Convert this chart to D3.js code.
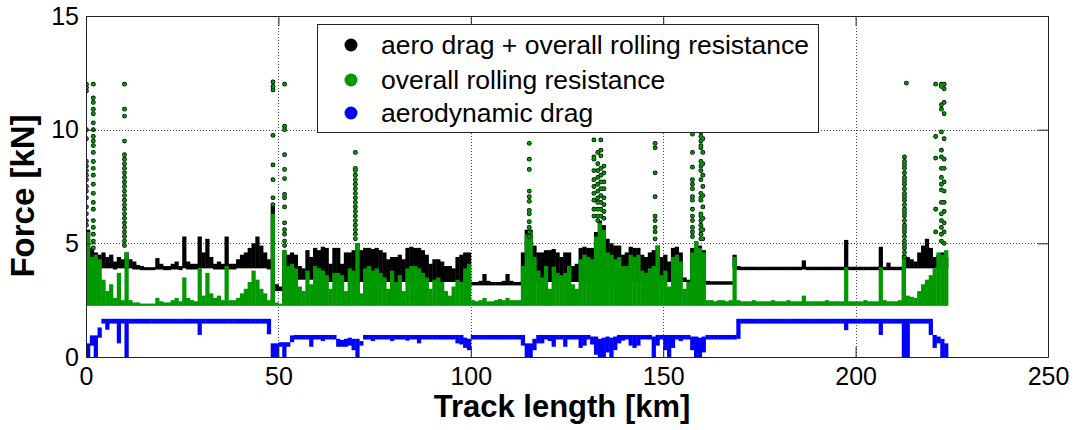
<!DOCTYPE html>
<html><head><meta charset="utf-8">
<script src="https://cdn.jsdelivr.net/npm/d3@7"></script>
<style>
body{margin:0;background:#fff}
svg{display:block}
text{font-family:"Liberation Sans",Arial,sans-serif;fill:#000}
</style>
</head><body>
<svg id="chart" width="1075" height="430"></svg>
<script>
// ---------- data (1 km bins starting at km 0) ----------
const xTicks = [0, 50, 100, 150, 200, 250];
const yTicks = [0, 5, 10, 15];
const xGrid = [50, 100, 150, 200];
const yGrid = [5, 10];
const seriesNames = ["aero drag + overall rolling resistance", "overall rolling resistance", "aerodynamic drag"];
const seriesColors = ["#000000", "#009900", "#0000ff"];

// overall rolling resistance: upper envelope of the dense green points [kN]
const greenHi = [
5.5,4.4,4.5,4.3,3.4,2.9,3.2,2.6,3.7,2.5,
4.6,2.5,2.4,2.4,2.35,2.35,2.35,2.35,2.6,2.45,
2.4,2.4,2.5,2.6,2.45,3.5,2.6,2.5,2.45,3.9,
2.7,3.7,2.8,2.6,2.7,2.5,4.0,2.5,2.5,2.6,
2.8,3.0,3.3,3.8,3.4,3.0,2.8,2.5,6.3,2.4,
2.35,4.7,4.0,4.1,3.9,3.1,2.9,3.8,3.2,4.0,
3.9,3.8,3.6,3.0,3.7,3.7,3.6,2.9,3.9,3.8,
5.0,2.8,3.9,4.0,3.8,3.9,3.7,3.5,3.0,3.8,
3.3,3.6,2.9,3.9,4.0,4.0,3.9,3.7,3.5,3.0,
3.4,3.5,3.3,2.9,2.7,3.1,3.4,3.3,3.9,4.1,
2.5,2.45,2.5,2.6,2.45,2.45,2.5,2.55,2.5,2.6,
2.5,2.5,2.5,4.0,5.4,5.5,4.4,3.8,3.5,4.0,
3.0,3.98,3.7,3.6,3.7,4.0,3.2,3.0,4.3,4.5,
4.4,4.3,5.3,5.9,5.6,4.6,4.5,4.3,4.4,4.0,
4.0,4.5,4.4,4.5,3.8,3.7,3.9,4.0,4.9,3.6,
3.8,3.1,4.4,4.5,4.2,3.0,3.3,4.6,5.1,4.8,
4.6,2.5,2.5,2.45,2.5,2.5,2.45,2.5,4.4,2.5,
2.45,2.45,2.45,2.5,2.45,2.45,2.45,2.45,2.5,2.45,
2.45,2.45,2.5,2.45,2.45,2.45,2.7,2.45,2.45,2.45,
2.45,2.45,2.5,2.45,2.45,2.45,2.45,3.95,2.45,2.45,
2.45,2.45,2.5,2.45,2.45,2.45,3.95,2.5,2.45,2.45,
2.45,2.5,4.5,2.7,2.65,2.6,2.9,3.2,3.4,3.6,
3.9,4.6,4.5,4.7];
const greenLo = 2.25;

// aero drag + overall rolling resistance: upper / lower envelope [kN]
const blackHi = [
5.6,4.8,4.6,4.5,4.6,4.4,4.5,4.2,4.4,4.3,
4.6,4.3,4.2,4.05,4.0,3.95,3.95,3.95,4.35,4.1,
4.0,4.0,4.1,4.2,4.0,5.3,4.2,4.1,4.1,5.3,
4.6,5.2,4.4,4.1,4.2,4.1,5.3,4.1,4.1,4.3,
4.5,4.6,4.8,5.0,5.3,4.9,4.6,4.3,6.7,3.2,
3.1,4.7,4.5,4.6,4.5,4.0,3.9,4.7,4.4,4.8,
4.7,4.85,4.8,4.1,4.8,4.8,4.1,4.6,4.6,4.7,
5.0,4.7,4.8,4.8,4.75,4.8,4.7,4.6,4.3,4.4,
4.4,4.5,4.3,4.8,4.85,4.8,4.8,4.7,4.5,4.1,
4.3,4.3,4.2,4.0,4.0,3.9,4.4,4.5,4.6,4.6,
3.3,3.3,3.35,3.65,3.35,3.3,3.3,3.3,3.35,3.65,
3.35,3.3,3.3,4.6,5.6,5.6,4.9,4.6,4.6,4.7,
4.7,4.75,4.6,4.4,4.6,4.6,4.0,4.1,4.8,4.85,
4.8,4.8,5.5,6.0,5.8,5.2,5.0,4.9,4.9,4.5,
4.6,4.85,4.8,4.8,4.5,4.4,4.6,4.7,4.9,4.4,
4.5,4.2,4.8,4.85,4.6,3.5,3.4,4.8,5.1,4.9,
4.7,3.35,3.33,3.33,3.33,3.33,3.33,3.33,4.5,4.0,
3.97,3.97,3.97,3.97,3.97,3.97,3.97,3.97,3.97,3.97,
3.97,3.97,3.97,3.97,3.97,3.97,4.25,3.97,3.97,3.97,
3.97,3.97,3.97,3.97,3.97,3.97,3.97,5.15,3.97,3.97,
3.97,3.97,3.97,3.97,3.97,3.97,4.85,3.97,4.15,3.97,
3.97,3.97,4.0,4.4,4.3,4.2,4.6,4.9,5.2,4.8,
4.4,4.5,4.6,4.4];
const blackLo = [
3.8,3.9,3.9,3.9,3.9,3.9,3.9,3.85,3.9,3.9,
3.9,3.9,3.85,3.85,3.82,3.82,3.82,3.82,3.85,3.85,
3.82,3.82,3.85,3.85,3.82,3.9,3.85,3.85,3.85,3.9,
3.9,3.9,3.9,3.85,3.85,3.85,3.9,3.85,3.85,3.9,
3.9,3.9,3.9,3.9,3.9,3.9,3.9,3.85,2.4,2.9,
2.9,2.4,3.5,3.5,3.5,3.4,3.4,3.4,3.4,3.4,
3.3,3.3,3.3,3.3,3.3,3.3,3.3,3.3,3.3,3.3,
2.4,3.3,3.3,3.3,3.3,3.3,3.3,3.3,3.3,3.3,
3.3,3.3,3.3,3.3,3.3,3.3,3.3,3.3,3.3,3.3,
3.3,3.3,3.3,3.3,3.3,3.3,3.3,3.3,3.3,3.3,
3.15,3.15,3.15,3.15,3.15,3.15,3.15,3.15,3.15,3.15,
3.15,3.15,3.15,3.3,2.4,2.4,3.3,3.3,3.3,3.3,
3.3,3.3,3.3,3.3,3.3,3.3,3.3,3.3,3.3,3.3,
3.3,3.3,2.4,2.4,2.4,3.3,3.3,3.3,3.3,3.3,
3.3,3.3,3.3,3.3,3.3,3.3,3.3,2.4,3.3,3.3,
3.3,3.3,3.3,3.3,3.3,3.3,3.3,2.4,2.4,2.4,
3.3,3.18,3.18,3.18,3.18,3.18,3.18,3.18,3.9,3.82,
3.82,3.82,3.82,3.82,3.82,3.82,3.82,3.82,3.82,3.82,
3.82,3.82,3.82,3.82,3.82,3.82,3.85,3.82,3.82,3.82,
3.82,3.82,3.82,3.82,3.82,3.82,3.82,3.82,3.82,3.82,
3.82,3.82,3.82,3.82,3.82,3.82,3.82,3.82,3.82,3.82,
3.82,3.82,2.5,3.9,3.9,3.9,3.9,3.9,3.9,3.9,
3.9,3.9,3.9,3.9];

// aerodynamic drag: level and dips [kN]
const blueHi = [
0.6,0.95,0.95,1.3,1.68,1.68,1.68,1.68,1.68,1.68,
1.68,1.68,1.68,1.68,1.68,1.68,1.68,1.68,1.68,1.68,
1.68,1.68,1.68,1.68,1.68,1.68,1.68,1.68,1.68,1.68,
1.68,1.68,1.68,1.68,1.68,1.68,1.68,1.68,1.68,1.68,
1.68,1.68,1.68,1.68,1.68,1.68,1.68,1.68,0.6,0.6,
0.65,0.65,0.65,0.95,0.97,0.97,0.97,0.97,0.97,0.97,
0.97,0.97,0.97,0.97,0.97,0.8,0.75,0.8,0.85,0.8,
0.8,0.7,0.97,0.97,0.97,0.97,0.97,0.97,0.97,0.97,
0.97,0.97,0.97,0.97,0.97,0.97,0.97,0.97,0.97,0.97,
0.97,0.97,0.97,0.97,0.97,0.97,0.97,0.97,0.85,0.8,
0.97,0.97,0.97,0.97,0.97,0.97,0.97,0.97,0.97,0.97,
0.97,0.97,0.97,0.97,0.6,0.6,0.8,0.97,0.97,0.97,
0.97,0.97,0.97,0.97,0.97,0.97,0.97,0.97,0.97,0.97,
0.97,0.9,0.9,0.8,0.85,0.9,0.85,0.9,0.97,0.97,
0.97,0.97,0.97,0.97,0.97,0.97,0.97,0.9,0.97,0.97,
0.97,0.97,0.97,0.97,0.97,0.97,0.97,0.9,0.9,0.85,
0.9,0.97,0.97,0.97,0.97,0.97,0.97,0.97,0.97,1.68,
1.68,1.68,1.68,1.68,1.68,1.68,1.68,1.68,1.68,1.68,
1.68,1.68,1.68,1.68,1.68,1.68,1.68,1.68,1.68,1.68,
1.68,1.68,1.68,1.68,1.68,1.68,1.68,1.68,1.68,1.68,
1.68,1.68,1.68,1.68,1.68,1.68,1.68,1.68,1.68,1.68,
1.68,1.68,1.68,1.68,1.68,1.68,1.68,1.68,1.68,1.68,
0.97,0.9,0.8,0.6];
const blueLo = [
0,0.5,0,0.85,1.47,1.2,1.47,1.47,0.6,1.47,
0,1.47,1.47,1.47,1.47,1.47,1.47,1.47,1.47,1.47,
1.47,1.47,1.47,1.47,1.47,1.47,1.47,1.47,1.47,0.97,
1.47,1.47,1.47,1.47,1.47,1.47,1.47,1.47,1.47,1.47,
1.47,1.47,1.47,1.47,1.47,1.47,1.47,1.0,0,0,
0.45,0,0.45,0.65,0.77,0.77,0.77,0.77,0.45,0.77,
0.77,0.7,0.77,0.77,0.77,0.45,0.45,0.45,0.5,0.3,
0,0.5,0.77,0.77,0.7,0.77,0.77,0.77,0.77,0.7,
0.77,0.77,0.77,0.72,0.77,0.77,0.6,0.77,0.77,0.77,
0.77,0.77,0.77,0.77,0.77,0.77,0.6,0.55,0.4,0.3,
0.77,0.77,0.77,0.77,0.77,0.77,0.77,0.77,0.77,0.77,
0.77,0.77,0.77,0.5,0,0,0.3,0.6,0.6,0.77,
0.7,0.45,0.77,0.77,0.45,0.77,0.77,0.77,0.4,0.5,
0.77,0.55,0.1,0,0,0.2,0,0.3,0.6,0.72,
0.77,0.5,0.4,0.5,0.77,0.77,0.77,0,0.5,0.77,
0.3,0,0.4,0.77,0.7,0.77,0.77,0.3,0,0,
0.2,0.77,0.77,0.77,0.77,0.77,0.77,0.77,0.77,0.8,
1.47,1.47,1.47,1.47,1.47,1.47,1.47,1.47,1.47,1.47,
1.47,1.47,1.47,1.47,1.47,1.47,1.47,1.47,1.47,1.47,
1.47,1.47,1.47,1.47,1.47,1.47,1.47,1.18,1.47,1.47,
1.47,1.47,1.47,1.47,1.47,1.47,0.97,1.47,1.47,1.47,
1.47,1.47,0,0,1.47,1.47,1.47,1.47,1.47,0.97,
0.4,0.6,0,0];

// isolated high-value points (spikes) : track position [km] and point values [kN]
const spikeX = [0.1, 1.9, 10.0, 48.6, 51.6, 70.0, 115.2, 132.0, 133.0, 133.8, 134.6,
                147.9, 157.6, 159.8, 160.3, 212.7, 213.2, 220.8, 222.3, 223.0];
const spikeVals = [
 [12.0,11.85,11.7,10.0,9.6,8.6,8.4,8.2,8.0,7.8,7.5,7.3,7.0,6.6,6.3,6.0,5.8],
 [12.0,11.4,11.2,10.9,10.7,10.3,10.0,9.7,9.5,9.3,9.0,8.6,8.3,8.0,7.6,7.2,6.8,6.5,6.0,5.7,5.4,5.1,4.8],
 [12.0,10.9,10.6,9.5,8.9,8.7,8.5,8.3,8.1,7.9,7.7,7.5,7.3,7.1,6.9,6.7,6.5,6.3,6.1,5.9,5.7,5.5,5.3,5.1,4.9],
 [12.1,11.9,11.75,9.75,8.45,7.8,7.0,6.7],
 [12.0,10.15,10.0,8.9,8.25,7.85,7.15,7.0,6.6,5.9,5.6,5.4,5.1,4.9],
 [9.0,8.3,8.2,8.0,7.8,7.6,7.4,7.2,7.0,6.8,6.6,6.4,6.2,6.0,5.8,5.6,5.4,5.2],
 [9.4,8.7,8.25,7.3,7.05,6.85,6.45,6.3,5.95,5.7,5.5,5.3],
 [9.55,8.8,8.7,8.2,7.8,7.5,7.2,6.9,6.5,6.2],
 [9.0,8.5,8.2,7.9,7.6,7.3,7.0,6.8,6.5,6.2,6.0],
 [9.55,9.1,8.85,8.3,8.0,7.7,7.4,7.1,6.8,6.5,6.2],
 [8.4,8.1,7.7,7.4,7.0,6.7,6.4,6.1],
 [9.4,9.2,8.1,7.05,6.2,6.0,5.7,5.5,5.2],
 [9.8,9.0,8.35,7.8,7.6,7.4,7.05,6.9,6.5,6.2,6.0,5.7,5.5,5.3],
 [10.2,9.9,9.7,9.5,9.3,9.2,8.6,8.4,8.2,7.8,7.2,7.0,6.9,6.3,6.2,6.0,5.8,5.6,5.4,5.2],
 [9.6,9.0,8.5,8.0,7.5,7.1,6.6,6.1,5.6,5.2],
 [8.8,8.6,8.45,8.3,8.1,7.9,7.75,7.6,7.4,7.2,7.05,6.9,6.7,6.5,6.35,6.2,6.0,5.8,5.65,5.5,5.3,5.1,4.95,4.8,4.6,4.4],
 [12.05],
 [12.0,9.7,8.75,6.5,5.5],
 [12.0,11.9,11.1,10.9,9.9,9.1,8.8,8.3,7.9,7.6,7.35,6.8,6.3,6.0,5.7,5.4,5.1],
 [12.0,11.8,11.2,10.7,9.6,8.7,8.3,7.7,7.3,6.8,6.4,5.9,5.5,5.0]
];

// ---------- drawing ----------
const svg = d3.select("#chart");
const L = 86, R = 1048, T = 16, B = 357;
const x = d3.scaleLinear().domain([0, 250]).range([L, R]);
const y = d3.scaleLinear().domain([0, 15]).range([B, T]);

svg.append("defs").append("clipPath").attr("id", "plotclip")
  .append("rect").attr("x", L).attr("y", T).attr("width", R - L).attr("height", B - T);

// grid
const grid = svg.append("g").attr("stroke", "#444").attr("stroke-width", 1).attr("stroke-dasharray", "1,2");
grid.selectAll("line.vx").data(xGrid).join("line")
  .attr("x1", d => Math.round(x(d)) + 0.5).attr("x2", d => Math.round(x(d)) + 0.5)
  .attr("y1", T).attr("y2", B);
grid.selectAll("line.hy").data(yGrid).join("line")
  .attr("y1", d => Math.round(y(d)) + 0.5).attr("y2", d => Math.round(y(d)) + 0.5)
  .attr("x1", L).attr("x2", R);

const plot = svg.append("g").attr("clip-path", "url(#plotclip)");

function band(values, lower, color) {
  const lo = i => (Array.isArray(lower) ? lower[i] : lower);
  plot.append("g").selectAll("rect").data(d3.range(values.length)).join("rect")
    .attr("x", i => x(i))
    .attr("width", i => x(i + 1) - x(i) + 0.4)
    .attr("y", i => y(values[i]))
    .attr("height", i => Math.max(1, y(lo(i)) - y(values[i])))
    .attr("fill", color);
}

band(blackHi, blackLo, seriesColors[0]);
band(greenHi, greenLo, seriesColors[1]);

// spike points: black under green
const pts = [];
spikeX.forEach((sx, k) => spikeVals[k].forEach(v => pts.push([sx, v])));
plot.append("g").selectAll("circle").data(pts).join("circle")
  .attr("cx", d => x(d[0])).attr("cy", d => y(d[1])).attr("r", 2.4).attr("fill", seriesColors[0]);
plot.append("g").selectAll("circle").data(pts).join("circle")
  .attr("cx", d => x(d[0])).attr("cy", d => y(d[1])).attr("r", 1.7).attr("fill", seriesColors[1]);

band(blueHi, blueLo, seriesColors[2]);

// axes (ticks inside, MATLAB style)
const fs = 25;
const ax = svg.append("g").attr("transform", `translate(0,${B})`)
  .call(d3.axisBottom(x).tickValues(xTicks).tickSizeInner(-10).tickSizeOuter(0).tickPadding(10));
const ay = svg.append("g").attr("transform", `translate(${L},0)`)
  .call(d3.axisLeft(y).tickValues(yTicks).tickSizeInner(-10).tickSizeOuter(0).tickPadding(7));
const at = svg.append("g").attr("transform", `translate(0,${T})`)
  .call(d3.axisTop(x).tickValues(xTicks).tickSizeInner(-10).tickSizeOuter(0).tickFormat(""));
const ar = svg.append("g").attr("transform", `translate(${R},0)`)
  .call(d3.axisRight(y).tickValues(yTicks).tickSizeInner(-10).tickSizeOuter(0).tickFormat(""));
[ax, ay, at, ar].forEach(g => {
  g.selectAll("path.domain").attr("stroke", "#222");
  g.selectAll(".tick line").attr("stroke", "#222");
  g.selectAll(".tick text").attr("font-size", fs).attr("font-family", '"Liberation Sans", Arial, sans-serif').attr("fill", "#000");
});

// axis titles
svg.append("text").attr("x", 562).attr("y", 417).attr("text-anchor", "middle")
  .attr("font-size", 31).attr("font-weight", "bold").text("Track length [km]");
svg.append("text").attr("transform", "translate(34,196) rotate(-90)").attr("text-anchor", "middle")
  .attr("font-size", 33).attr("font-weight", "bold").text("Force [kN]");

// legend
const lg = svg.append("g");
lg.append("rect").attr("x", 317.5).attr("y", 24.5).attr("width", 501).attr("height", 108)
  .attr("fill", "#fff").attr("stroke", "#222").attr("stroke-width", 1);
const rows = [45, 80, 113];
lg.selectAll("circle").data(seriesNames).join("circle")
  .attr("cx", 351).attr("cy", (d, i) => rows[i]).attr("r", 6.5).attr("fill", (d, i) => seriesColors[i]);
lg.selectAll("text").data(seriesNames).join("text")
  .attr("x", 381).attr("y", (d, i) => rows[i] + 8.5).attr("font-size", 26.5).text(d => d);
</script>
</body></html>
